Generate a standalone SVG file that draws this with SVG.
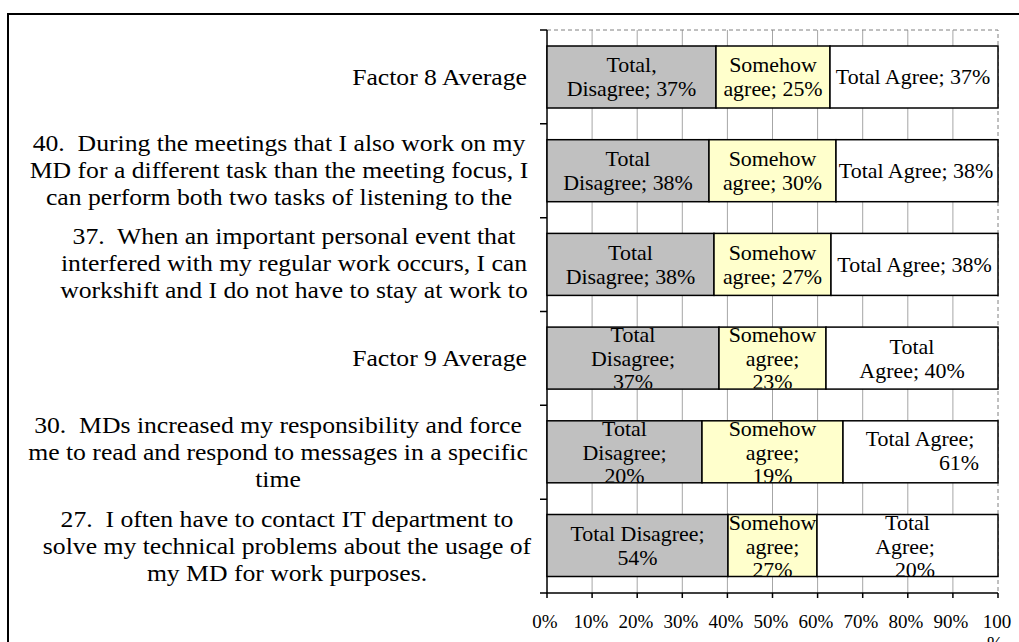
<svg xmlns="http://www.w3.org/2000/svg" width="1019" height="642" viewBox="0 0 1019 642">
<style>
.lbl{font-family:"Liberation Serif","Times New Roman",serif;font-size:24px;fill:#000}
.bl{font-family:"Liberation Serif","Times New Roman",serif;font-size:20.5px;fill:#000;text-anchor:middle}
.ax{font-family:"Liberation Serif","Times New Roman",serif;font-size:19px;fill:#000;text-anchor:middle}
.m{text-anchor:middle}
.e{text-anchor:end}
.grid{stroke:#a6a6a6;stroke-width:1}
.g{fill:#c0c0c0;stroke:#000;stroke-width:1.5}
.y{fill:#ffffcc;stroke:#000;stroke-width:1.5}
.w{fill:#ffffff;stroke:#000;stroke-width:1.5}
</style>
<defs>
<clipPath id="c1"><rect x="547" y="46.5" width="451" height="61"/></clipPath>
<clipPath id="c2"><rect x="547" y="140.2" width="451" height="61"/></clipPath>
<clipPath id="c3"><rect x="547" y="233.9" width="451" height="61"/></clipPath>
<clipPath id="c4"><rect x="547" y="327.6" width="451" height="61"/></clipPath>
<clipPath id="c5"><rect x="547" y="421.3" width="451" height="61"/></clipPath>
<clipPath id="c6"><rect x="547" y="515" width="451" height="61"/></clipPath>
</defs>
<rect x="0" y="0" width="1019" height="642" fill="#fff"/>
<rect x="8" y="14" width="1030" height="700" fill="none" stroke="#000" stroke-width="2"/>

<g id="axes">
<g class="grid">
<line x1="592.1" y1="30" x2="592.1" y2="593"/>
<line x1="637.2" y1="30" x2="637.2" y2="593"/>
<line x1="682.3" y1="30" x2="682.3" y2="593"/>
<line x1="727.4" y1="30" x2="727.4" y2="593"/>
<line x1="772.5" y1="30" x2="772.5" y2="593"/>
<line x1="817.6" y1="30" x2="817.6" y2="593"/>
<line x1="862.7" y1="30" x2="862.7" y2="593"/>
<line x1="907.8" y1="30" x2="907.8" y2="593"/>
<line x1="952.9" y1="30" x2="952.9" y2="593"/>
</g>
<path d="M547 30H998V593" fill="none" stroke="#808080" stroke-width="1" stroke-dasharray="4 3"/>
<path d="M547 30V593H998" fill="none" stroke="#000" stroke-width="1.5"/>
<path d="M540 30H547M540 123.8H547M540 217.7H547M540 311.5H547M540 405.3H547M540 499.2H547M540 593H547" stroke="#000" stroke-width="1.5"/>
<path d="M547 593v5M592.1 593v5M637.2 593v5M682.3 593v5M727.4 593v5M772.5 593v5M817.6 593v5M862.7 593v5M907.8 593v5M952.9 593v5M998 593v5" stroke="#000" stroke-width="1.5"/>
<text class="ax" x="545" y="628">0%</text>
<text class="ax" x="591" y="628">10%</text>
<text class="ax" x="636" y="628">20%</text>
<text class="ax" x="681" y="628">30%</text>
<text class="ax" x="726" y="628">40%</text>
<text class="ax" x="771" y="628">50%</text>
<text class="ax" x="816" y="628">60%</text>
<text class="ax" x="861" y="628">70%</text>
<text class="ax" x="906" y="628">80%</text>
<text class="ax" x="951" y="628">90%</text>
<text class="ax" x="997" y="628">100</text>
<text class="ax" x="995" y="650">%</text>
</g>

<g id="labels">
<g id="lab-f8"><text class="lbl e" transform="translate(527,85) scale(1.07,1)">Factor 8 Average</text></g>
<g id="lab-40">
<text class="lbl m" transform="translate(279,151) scale(1.07,1)">40.&#160; During the meetings that I also work on my</text>
<text class="lbl m" transform="translate(279,178) scale(1.07,1)">MD for a different task than the meeting focus, I</text>
<text class="lbl m" transform="translate(279,205) scale(1.07,1)">can perform both two tasks of listening to the</text>
</g>
<g id="lab-37">
<text class="lbl m" transform="translate(294,244) scale(1.07,1)">37.&#160; When an important personal event that</text>
<text class="lbl m" transform="translate(294,271) scale(1.07,1)">interfered with my regular work occurs, I can</text>
<text class="lbl m" transform="translate(294,298) scale(1.07,1)">workshift and I do not have to stay at work to</text>
</g>
<g id="lab-f9"><text class="lbl e" transform="translate(527,366) scale(1.07,1)">Factor 9 Average</text></g>
<g id="lab-30">
<text class="lbl m" transform="translate(278,433) scale(1.07,1)">30.&#160; MDs increased my responsibility and force</text>
<text class="lbl m" transform="translate(278,460) scale(1.07,1)">me to read and respond to messages in a specific</text>
<text class="lbl m" transform="translate(278,487) scale(1.07,1)">time</text>
</g>
<g id="lab-27">
<text class="lbl m" transform="translate(287,527) scale(1.07,1)">27.&#160; I often have to contact IT department to</text>
<text class="lbl m" transform="translate(287,554) scale(1.07,1)">solve my technical problems about the usage of</text>
<text class="lbl m" transform="translate(287,581) scale(1.07,1)">my MD for work purposes.</text>
</g>
</g>

<g id="bar-f8">
<rect class="g" x="547" y="46" width="169" height="62"/>
<rect class="y" x="716" y="46" width="114" height="62"/>
<rect class="w" x="830" y="46" width="168" height="62"/>
<g clip-path="url(#c1)">
<text class="bl" transform="translate(631.5,72) scale(1.07,1)">Total,</text>
<text class="bl" transform="translate(631.5,96) scale(1.07,1)">Disagree; 37%</text>
<text class="bl" transform="translate(773,72) scale(1.07,1)">Somehow</text>
<text class="bl" transform="translate(773,96) scale(1.07,1)">agree; 25%</text>
<text class="bl" transform="translate(913,84) scale(1.07,1)">Total Agree; 37%</text>
</g>
</g>

<g id="bar-40">
<rect class="g" x="547" y="139.7" width="162" height="62"/>
<rect class="y" x="709" y="139.7" width="127" height="62"/>
<rect class="w" x="836" y="139.7" width="162" height="62"/>
<g clip-path="url(#c2)">
<text class="bl" transform="translate(628,166) scale(1.07,1)">Total</text>
<text class="bl" transform="translate(628,190) scale(1.07,1)">Disagree; 38%</text>
<text class="bl" transform="translate(772.5,166) scale(1.07,1)">Somehow</text>
<text class="bl" transform="translate(772.5,190) scale(1.07,1)">agree; 30%</text>
<text class="bl" transform="translate(916,178) scale(1.07,1)">Total Agree; 38%</text>
</g>
</g>

<g id="bar-37">
<rect class="g" x="547" y="233.4" width="167" height="62"/>
<rect class="y" x="714" y="233.4" width="117" height="62"/>
<rect class="w" x="831" y="233.4" width="167" height="62"/>
<g clip-path="url(#c3)">
<text class="bl" transform="translate(630.5,260) scale(1.07,1)">Total</text>
<text class="bl" transform="translate(630.5,284) scale(1.07,1)">Disagree; 38%</text>
<text class="bl" transform="translate(772.5,260) scale(1.07,1)">Somehow</text>
<text class="bl" transform="translate(772.5,284) scale(1.07,1)">agree; 27%</text>
<text class="bl" transform="translate(914.5,272) scale(1.07,1)">Total Agree; 38%</text>
</g>
</g>

<g id="bar-f9">
<rect class="g" x="547" y="327.1" width="172" height="62"/>
<rect class="y" x="719" y="327.1" width="107" height="62"/>
<rect class="w" x="826" y="327.1" width="172" height="62"/>
<g clip-path="url(#c4)">
<text class="bl" transform="translate(633,342) scale(1.07,1)">Total</text>
<text class="bl" transform="translate(633,365.5) scale(1.07,1)">Disagree;</text>
<text class="bl" transform="translate(633,389) scale(1.07,1)">37%</text>
<text class="bl" transform="translate(772.5,342) scale(1.07,1)">Somehow</text>
<text class="bl" transform="translate(772.5,365.5) scale(1.07,1)">agree;</text>
<text class="bl" transform="translate(772.5,389) scale(1.07,1)">23%</text>
<text class="bl" transform="translate(912,354) scale(1.07,1)">Total</text>
<text class="bl" transform="translate(912,378) scale(1.07,1)">Agree; 40%</text>
</g>
</g>

<g id="bar-30">
<rect class="g" x="547" y="420.8" width="155" height="62"/>
<rect class="y" x="702" y="420.8" width="141" height="62"/>
<rect class="w" x="843" y="420.8" width="155" height="62"/>
<g clip-path="url(#c5)">
<text class="bl" transform="translate(624.5,436) scale(1.07,1)">Total</text>
<text class="bl" transform="translate(624.5,459.5) scale(1.07,1)">Disagree;</text>
<text class="bl" transform="translate(624.5,483) scale(1.07,1)">20%</text>
<text class="bl" transform="translate(772.5,436) scale(1.07,1)">Somehow</text>
<text class="bl" transform="translate(772.5,459.5) scale(1.07,1)">agree;</text>
<text class="bl" transform="translate(772.5,483) scale(1.07,1)">19%</text>
<text class="bl" transform="translate(920,446) scale(1.07,1)">Total Agree;</text>
<text class="bl" transform="translate(959,470) scale(1.07,1)">61%</text>
</g>
</g>

<g id="bar-27">
<rect class="g" x="547" y="514.5" width="181" height="62"/>
<rect class="y" x="728" y="514.5" width="89" height="62"/>
<rect class="w" x="817" y="514.5" width="181" height="62"/>
<g clip-path="url(#c6)">
<text class="bl" transform="translate(637.5,541) scale(1.07,1)">Total Disagree;</text>
<text class="bl" transform="translate(637.5,565) scale(1.07,1)">54%</text>
<text class="bl" transform="translate(772.5,530) scale(1.07,1)">Somehow</text>
<text class="bl" transform="translate(772.5,553.5) scale(1.07,1)">agree;</text>
<text class="bl" transform="translate(772.5,577) scale(1.07,1)">27%</text>
<text class="bl" transform="translate(907.5,530) scale(1.07,1)">Total</text>
<text class="bl" transform="translate(905,553.5) scale(1.07,1)">Agree;</text>
<text class="bl" transform="translate(915,577) scale(1.07,1)">20%</text>
</g>
</g>
</svg>
